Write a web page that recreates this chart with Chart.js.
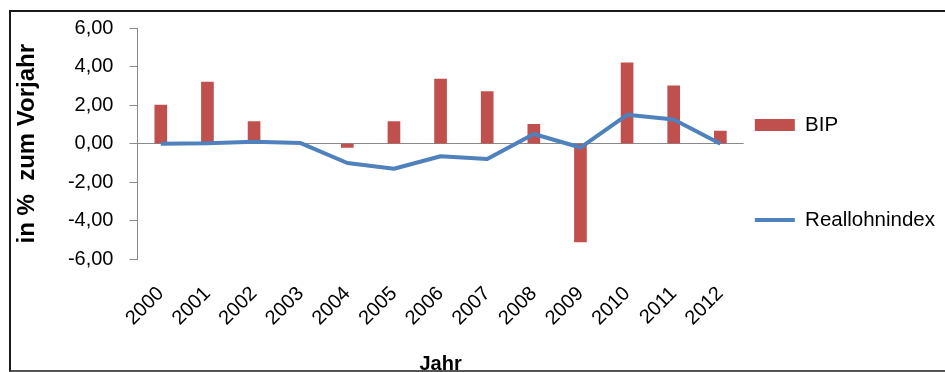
<!DOCTYPE html>
<html>
<head>
<meta charset="utf-8">
<script src="https://cdn.jsdelivr.net/npm/chart.js@4/dist/chart.umd.min.js"></script>
<style>
  html, body { margin: 0; padding: 0; background: #fff; }
  #wrap { position: relative; width: 945px; height: 372px; overflow: hidden; }
  #wrap canvas { position: absolute; left: 0; top: 0; }
  #frame {
    position: absolute; left: 9px; top: 10px; width: 945px; height: 362px;
    box-sizing: border-box; pointer-events: none;
    border-top: 2px solid #1a1a1a; border-left: 2px solid #1a1a1a; border-bottom: 2px solid #555;
  }
</style>
</head>
<body>
<div id="wrap">
  <canvas id="chart" width="945" height="372"></canvas>
  <div id="frame"></div>
</div>
<script>
// Jahre (Kategorien)
const years = ['2000', '2001', '2002', '2003', '2004', '2005', '2006',
               '2007', '2008', '2009', '2010', '2011', '2012'];

// BIP, Veränderung in % zum Vorjahr
const bip = [2.0, 3.2, 1.15, 0.0, -0.2, 1.15, 3.35, 2.7, 1.0, -5.1, 4.2, 3.0, 0.65];

// Reallohnindex, Veränderung in % zum Vorjahr
const reallohnindex = [0.0, 0.02, 0.1, 0.03, -1.0, -1.3, -0.65, -0.8, 0.5, -0.2, 1.5, 1.25, 0.0];

// Beschriftung der y-Achse
const yTickLabels = ['-6,00', '-4,00', '-2,00', '0,00', '2,00', '4,00', '6,00'];

const FONT = "'Liberation Sans', Arial, sans-serif";
const AXIS_GREY = '#8a8a8a';
const RED = '#C0504D';
const BLUE = '#4F81BD';

Chart.defaults.font.family = FONT;
Chart.defaults.color = '#000';

// leere Legendeneinträge halten die beiden Zeilen auseinander
const blankItem = () => ({
  text: '', fillStyle: 'rgba(0,0,0,0)', strokeStyle: 'rgba(0,0,0,0)',
  lineWidth: 0, pointStyle: 'rect', hidden: false, datasetIndex: -1
});

new Chart(document.getElementById('chart'), {
  data: {
    labels: years,
    datasets: [
      {
        type: 'bar',
        label: 'BIP',
        data: bip,
        backgroundColor: RED,
        borderWidth: 0,
        barThickness: 12,
        pointStyle: 'rect',
        order: 2
      },
      {
        type: 'line',
        label: 'Reallohnindex',
        data: reallohnindex,
        borderColor: BLUE,
        backgroundColor: BLUE,
        borderWidth: 4,
        tension: 0,
        pointRadius: 0,
        pointStyle: 'line',
        borderJoinStyle: 'round',
        order: 1
      }
    ]
  },
  options: {
    responsive: false,
    animation: false,
    devicePixelRatio: 1,
    layout: { padding: { top: 20.5, left: 8, right: 0, bottom: 0 } },
    plugins: {
      tooltip: { enabled: false },
      legend: {
        position: 'right',
        align: 'center',
        maxWidth: 204,
        onClick: null,
        title: { display: true, text: '', padding: 0, font: { size: 15.8, lineHeight: 1 } },
        labels: {
          usePointStyle: true,
          pointStyleWidth: 40,
          boxHeight: 12,
          padding: 11.17,
          color: '#000',
          font: { size: 20.5, family: FONT },
          generateLabels(chart) {
            const items = Chart.defaults.plugins.legend.labels.generateLabels(chart)
              .sort((a, b) => a.datasetIndex - b.datasetIndex);
            return [items[0], blankItem(), blankItem(), items[1],
                    blankItem(), blankItem()];
          }
        }
      }
    },
    scales: {
      x: {
        grid: { display: false, drawTicks: false },
        border: { display: false },
        ticks: {
          minRotation: 45, maxRotation: 45, padding: 22.6,
          color: '#000', font: { size: 20, family: FONT }
        },
        title: {
          display: true, text: 'Jahr', color: '#000',
          font: { size: 20, weight: 'bold', family: FONT, lineHeight: 1.1 },
          padding: { top: 0, bottom: -3 }
        }
      },
      y: {
        min: -6, max: 6,
        ticks: {
          stepSize: 2, padding: 16, color: '#000',
          font: { size: 20, family: FONT },
          callback: (value, index) => yTickLabels[index]
        },
        grid: {
          color: ctx => (ctx.tick && ctx.tick.value === 0) ? AXIS_GREY : 'rgba(0,0,0,0)',
          tickColor: AXIS_GREY,
          tickLength: 8,
          lineWidth: 1
        },
        border: { display: true, color: AXIS_GREY, width: 1 },
        title: {
          display: true, text: 'in %  zum Vorjahr', color: '#000',
          font: { size: 24, weight: 'bold', family: FONT },
          padding: { top: 4.6, bottom: 10.5 }
        }
      }
    }
  }
});
</script>
</body>
</html>
